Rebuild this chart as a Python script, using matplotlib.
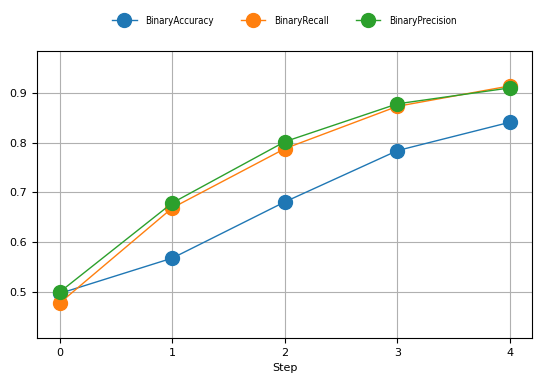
import matplotlib
matplotlib.use("Agg")
import matplotlib.pyplot as plt
from matplotlib.font_manager import FontProperties

steps = [0, 1, 2, 3, 4]
binary_accuracy = [0.497, 0.568, 0.681, 0.784, 0.841]
binary_recall = [0.478, 0.669, 0.788, 0.873, 0.914]
binary_precision = [0.500, 0.679, 0.802, 0.878, 0.910]

fig, ax = plt.subplots(figsize=(5.44, 3.84), dpi=100)
ax.plot(steps, binary_accuracy, marker='o', markersize=10, linewidth=1, label='BinaryAccuracy')
ax.plot(steps, binary_recall, marker='o', markersize=10, linewidth=1, label='BinaryRecall')
ax.plot(steps, binary_precision, marker='o', markersize=10, linewidth=1, label='BinaryPrecision')

ax.set_xlim(-0.204, 4.196)
ax.set_ylim(0.4075, 0.984)
ax.set_xticks(steps)
ax.set_yticks([0.5, 0.6, 0.7, 0.8, 0.9])
ax.tick_params(labelsize=8)
ax.set_xlabel('Step', fontsize=8)
ax.grid(True)

legend_font = FontProperties(family='DejaVu Sans', stretch='condensed', size=7)
ax.legend(loc='lower center', bbox_to_anchor=(0.5, 1.058), ncol=3, frameon=False,
          prop=legend_font, handlelength=2.5, handletextpad=0.9, columnspacing=2.8)

fig.subplots_adjust(left=0.068, right=0.978, top=0.867, bottom=0.12)
fig.savefig('out.png', dpi=100)
